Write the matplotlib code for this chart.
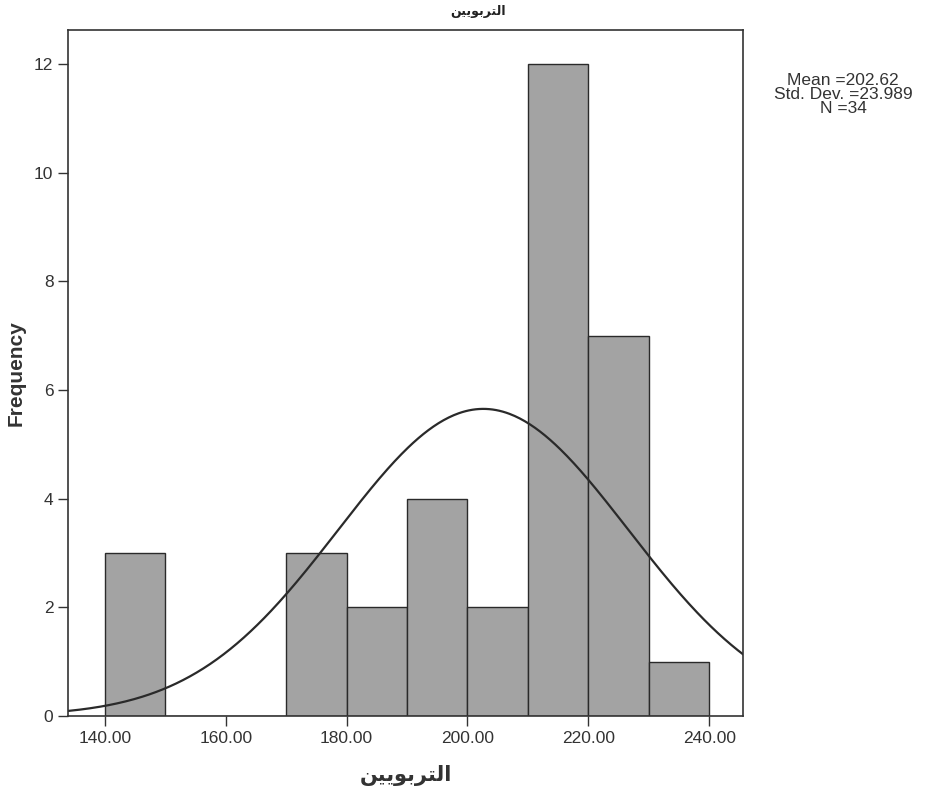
import numpy as np
import matplotlib.pyplot as plt

# histogram bins (width 10) and counts
bin_edges = [140, 150, 160, 170, 180, 190, 200, 210, 220, 230, 240]
counts = [3, 0, 0, 3, 2, 4, 2, 12, 7, 1]
mean = 202.62
std = 23.989
n = 34
xticks = [140, 160, 180, 200, 220, 240]
yticks = [0, 2, 4, 6, 8, 10, 12]

# Arabic word in presentation forms, visual order (matplotlib does no shaping)
label_ar = '\ufee6\ufef4\ufef3\ufeee\ufe91\ufeae\ufe98\ufedf\u0627'

plt.rcParams['font.family'] = ['Liberation Sans', 'DejaVu Sans']
fig = plt.figure(figsize=(9.42, 7.97), dpi=100)
ax = fig.add_axes([0.0722, 0.1016, 0.7166, 0.8608])

widths = np.diff(bin_edges)
ax.bar(bin_edges[:-1], counts, width=widths, align='edge',
       color='#a3a3a3', edgecolor='#2a2a2a', linewidth=1.0)

xs = np.linspace(133.9, 245.6, 400)
pdf = n * widths[0] / (std * np.sqrt(2 * np.pi)) * np.exp(-0.5 * ((xs - mean) / std) ** 2)
ax.plot(xs, pdf, color='#2a2a2a', linewidth=1.6)

ax.set_xlim(133.9, 245.6)
ax.set_ylim(0, 12.63)
ax.set_xticks(xticks)
ax.set_xticklabels(['%.2f' % v for v in xticks], fontsize=12.5, color='#333333')
ax.set_yticks(yticks)
ax.set_yticklabels([str(v) for v in yticks], fontsize=12.5, color='#333333')
ax.tick_params(length=7, width=1.0, color='#333333')
for s in ax.spines.values():
    s.set_color('#333333')
    s.set_linewidth(1.2)

ax.set_ylabel('Frequency', fontsize=15, fontweight='bold', color='#333333', labelpad=6)
ax.set_xlabel(label_ar, fontsize=15, fontweight='bold', color='#333333', labelpad=14,
              family=['DejaVu Sans'])
fig.text(0.508, 0.985, label_ar, ha='center', va='center', fontsize=9,
         fontweight='bold', color='#222222', family=['DejaVu Sans'])

fig.text(0.895, 0.882, 'Mean =202.62\nStd. Dev. =23.989\nN =34', ha='center', va='center',
         fontsize=12.5, color='#333333', linespacing=0.92)

fig.savefig('out.png', dpi=100)
